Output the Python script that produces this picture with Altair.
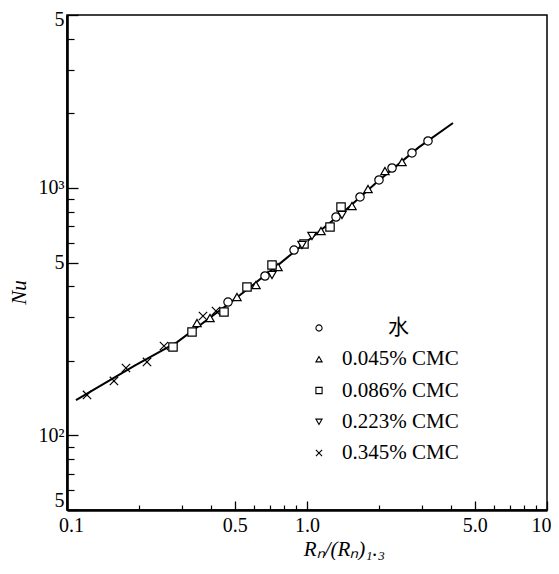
import altair as alt
import pandas as pd

series_names = ["水", "0.045% CMC", "0.086% CMC", "0.223% CMC", "0.345% CMC"]

water_x = [0.4687, 0.6683, 0.8830, 1.321, 1.663, 1.995, 2.261, 2.738, 3.193]
water_y = [346.2, 441.0, 561.6, 763.5, 919.7, 1077.3, 1204.4, 1385.1, 1548.5]
cmc045_x = [0.3481, 0.3943, 0.5109, 0.6131, 0.7571, 1.144, 1.540, 1.796, 2.113, 2.488]
cmc045_y = [284.8, 298.4, 362.7, 405.6, 479.6, 670.3, 845.8, 990.8, 1171.3, 1274.0]
cmc086_x = [0.2765, 0.3318, 0.4510, 0.5623, 0.7149, 0.9716, 1.247, 1.386]
cmc086_y = [227.8, 262.0, 315.5, 398.1, 488.6, 593.8, 695.6, 837.9]
cmc223_x = [0.7149, 0.9532, 1.049, 1.399]
cmc223_y = [445.1, 588.4, 639.9, 777.9]
cmc345_x = [0.1212, 0.1569, 0.1761, 0.2154, 0.2536, 0.3686, 0.4176]
cmc345_y = [145.8, 166.1, 187.4, 198.2, 229.9, 304.0, 318.4]

line_x = [0.109, 0.1914, 0.2878, 0.4813, 0.7726, 0.967, 1.4536, 1.9424, 2.92, 4.058]
line_y = [139.1, 191.6, 238.3, 345.2, 496, 593, 817, 1050, 1459, 1830]

x_major = [0.1, 0.5, 1.0, 5.0, 10]
x_minor = [0.2, 0.3, 0.4, 0.6, 0.7, 0.8, 0.9, 2, 3, 4, 6, 7, 8, 9]
y_major = [50, 100, 500, 1000, 5000]
y_minor = [60, 70, 80, 90, 200, 300, 400, 600, 700, 800, 900, 2000, 3000, 4000]

xs = [water_x, cmc045_x, cmc086_x, cmc223_x, cmc345_x]
ys = [water_y, cmc045_y, cmc086_y, cmc223_y, cmc345_y]
rows = []
for name, sx, sy in zip(series_names, xs, ys):
    for a, b in zip(sx, sy):
        rows.append({"x": a, "y": b, "s": name})
df_pts = pd.DataFrame(rows)
df_line = pd.DataFrame({"x": line_x, "y": line_y})
df_leg = pd.DataFrame({"s": series_names})

serif = "Liberation Serif, 'Noto Sans CJK SC'"
shape_scale = alt.Scale(domain=series_names,
                        range=["circle", "triangle-up", "square", "triangle-down",
                               "M-1,-1L1,1M-1,1L1,-1"])

xscale = alt.Scale(type="log", domain=[0.1, 10], nice=False)
yscale = alt.Scale(type="log", domain=[50, 5000], nice=False)

frame_x = alt.Axis(orient="bottom", domain=True, domainColor="black", domainWidth=2.6,
                   ticks=False, labels=False, grid=False,
                   title="Rₙ/(Rₙ)₁.₃", titleFont=serif, titleFontSize=21,
                   titleFontStyle="italic", titleFontWeight="normal", titleColor="black",
                   titleX=277, titleY=39, titleAlign="center", titleBaseline="middle")
frame_y = alt.Axis(orient="left", domain=True, domainColor="black", domainWidth=2.6,
                   ticks=False, labels=False, grid=False,
                   title="Nu", titleFont=serif, titleFontSize=21,
                   titleFontStyle="italic", titleFontWeight="normal", titleColor="black",
                   titleX=-48, titleY=277, titleAngle=270, titleAlign="center",
                   titleBaseline="middle")

major_x = alt.Axis(orient="bottom", values=x_major, domain=False, grid=False,
                   tickSize=9, offset=-9, tickColor="black", tickWidth=1.3,
                   labelExpr="datum.value == 10 ? '10' : format(datum.value, '.1f')",
                   labelFont=serif, labelFontSize=20, labelColor="black",
                   labelAlign=alt.condition("datum.value >= 10", alt.value("right"), alt.value("center")),
                   labelOffset=alt.condition("datum.value <= 0.1 || datum.value >= 10", alt.value(4), alt.value(0)),
                   labelPadding=5, labelFlush=False, labelBound=False, title=None)
major_y = alt.Axis(orient="left", values=y_major, domain=False, grid=False,
                   tickSize=11, offset=-11, tickColor="black", tickWidth=1.3,
                   labelExpr="datum.value == 100 ? '10²' : datum.value == 1000 ? '10³' : '5'",
                   labelFont=serif, labelFontSize=20, labelColor="black",
                   labelBaseline={"condition": [
                       {"test": "datum.value <= 50", "value": "bottom"},
                       {"test": "datum.value >= 5000", "value": "top"}],
                       "value": "middle"},
                   labelOffset=alt.condition("datum.value >= 5000", alt.value(-6), alt.value(0)),
                   labelPadding=3, labelFlush=False, title=None)
minor_x = alt.Axis(orient="bottom", values=x_minor, domain=False, grid=False,
                   tickSize=5, offset=-5, tickColor="black", tickWidth=1.2,
                   labels=False, title=None)
minor_y = alt.Axis(orient="left", values=y_minor, domain=False, grid=False,
                   tickSize=7, offset=-7, tickColor="black", tickWidth=1.2,
                   labels=False, title=None)

line = alt.Chart(df_line).mark_line(color="black", strokeWidth=2).encode(
    x=alt.X("x:Q", scale=xscale, axis=frame_x),
    y=alt.Y("y:Q", scale=yscale, axis=frame_y),
)

points = alt.Chart(df_pts).mark_point(
    filled=False, color="black", fill="white", fillOpacity=1, strokeWidth=1.2, size=70, opacity=1
).encode(
    x=alt.X("x:Q", scale=xscale, axis=major_x),
    y=alt.Y("y:Q", scale=yscale, axis=major_y),
    shape=alt.Shape("s:N", scale=shape_scale, legend=None),
)

minor = alt.Chart(df_line).mark_line(opacity=0).encode(
    x=alt.X("x:Q", scale=xscale, axis=minor_x),
    y=alt.Y("y:Q", scale=yscale, axis=minor_y),
)

leg_y = alt.Y("s:N", scale=alt.Scale(type="point", domain=series_names, range=[313, 438], padding=0),
              axis=None)
leg_sym = alt.Chart(df_leg).mark_point(
    filled=False, color="black", fill="white", fillOpacity=1, strokeWidth=1.1, size=38, opacity=1
).encode(
    x=alt.value(252),
    y=leg_y,
    shape=alt.Shape("s:N", scale=shape_scale, legend=None),
)
leg_txt_cmc = alt.Chart(df_leg).transform_filter("datum.s != '水'").mark_text(
    align="left", baseline="middle", font=serif, fontSize=21, color="black"
).encode(x=alt.value(275), y=leg_y, text="s:N")
leg_txt_water = alt.Chart(df_leg).transform_filter("datum.s == '水'").mark_text(
    align="left", baseline="middle", font=serif, fontSize=21, color="black"
).encode(x=alt.value(321), y=leg_y, text="s:N")

chart = alt.layer(line, points, minor, leg_sym, leg_txt_cmc, leg_txt_water).resolve_axis(
    x="independent", y="independent"
).resolve_scale(y="independent").properties(
    width=480, height=495,
    autosize=alt.AutoSizeParams(type="none"),
    padding={"left": 59, "top": 7, "right": 4, "bottom": 50},
    background="white",
).configure_view(stroke="black", strokeWidth=1.5)

chart.save("out.html", embed_options={"renderer": "svg", "actions": False})
